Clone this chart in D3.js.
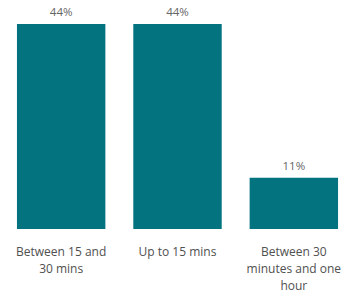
<!DOCTYPE html>
<html>
<head>
<meta charset="utf-8">
<script src="https://cdn.jsdelivr.net/npm/d3@7"></script>
<style>
  body { margin: 0; background: #fff; }
  text { font-family: "Open Sans", "Noto Sans", sans-serif; }
</style>
</head>
<body>
<div id="chart"></div>
<script>
// data
var categories = ["Between 15 and 30 mins", "Up to 15 mins", "Between 30 minutes and one hour"];
var labelLines = [["Between 15 and", "30 mins"], ["Up to 15 mins"], ["Between 30", "minutes and one", "hour"]];
var values = [44, 44, 11];

var W = 352, H = 298;
var margin = { left: 3, right: 0, top: 24, bottom: 69 };

var svg = d3.select("#chart").append("svg")
    .attr("width", W)
    .attr("height", H);

var x = d3.scaleBand()
    .domain(categories)
    .range([margin.left, W - margin.right])
    .paddingInner(0.24)
    .paddingOuter(0.12);

var y = d3.scaleLinear()
    .domain([0, 44])
    .range([H - margin.bottom, margin.top]);

// bars
svg.selectAll("rect.bar")
    .data(values)
    .enter().append("rect")
    .attr("class", "bar")
    .attr("x", function(d, i){ return x(categories[i]); })
    .attr("width", x.bandwidth())
    .attr("y", function(d){ return y(d); })
    .attr("height", function(d){ return y(0) - y(d); })
    .attr("fill", "#037380");

// value labels
svg.selectAll("text.val")
    .data(values)
    .enter().append("text")
    .attr("class", "val")
    .attr("x", function(d, i){ return x(categories[i]) + x.bandwidth() / 2; })
    .attr("y", function(d){ return y(d) - 8; })
    .attr("text-anchor", "middle")
    .attr("font-size", "11.5px")
    .attr("fill", "#666")
    .text(function(d){ return d + "%"; });

// category labels
categories.forEach(function(c, i){
    var t = svg.append("text")
        .attr("x", x(c) + x.bandwidth() / 2)
        .attr("y", y(0) + 27)
        .attr("text-anchor", "middle")
        .attr("font-size", "12px")
        .attr("fill", "#505050");
    labelLines[i].forEach(function(line, j){
        t.append("tspan")
            .attr("x", x(c) + x.bandwidth() / 2)
            .attr("dy", j == 0 ? 0 : 17)
            .text(line);
    });
});
</script>
</body>
</html>
